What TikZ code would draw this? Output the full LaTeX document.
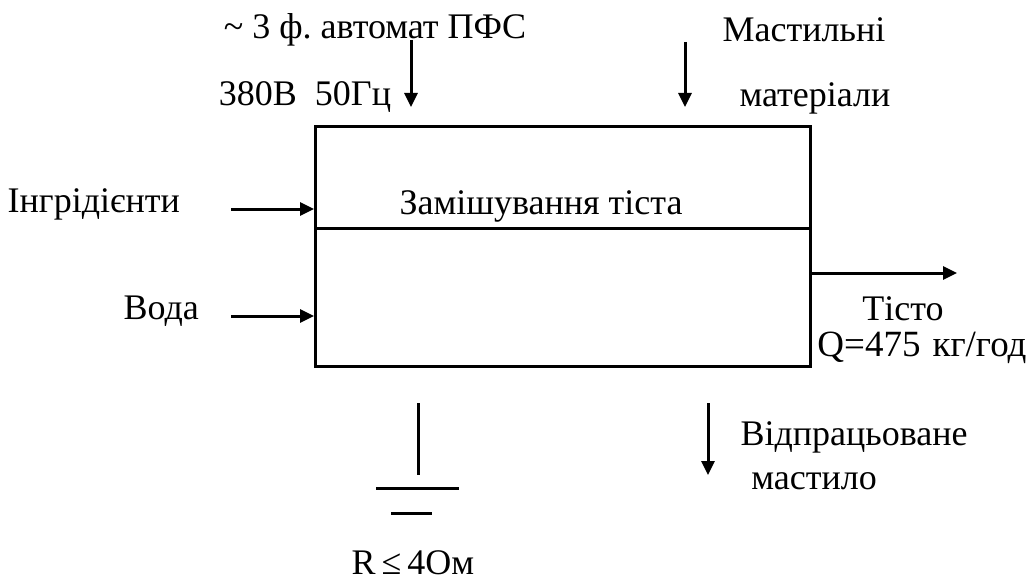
\documentclass[tikz,border=0pt]{standalone}
\usepackage{fontspec}
\setmainfont{Liberation Serif}
\newfontfamily\tnr{Liberation Serif}
\usetikzlibrary{arrows.meta}
\begin{document}
\frenchspacing
\begin{tikzpicture}[x=1pt,y=-1pt,
  line/.style={line width=3pt},
  arr/.style={line width=3pt,-{Triangle[length=14pt,width=13pt]}},
  lbl/.style={inner sep=0pt,font=\tnr\frenchspacing\fontsize{36}{42}\selectfont}]
\useasboundingbox (0,0) rectangle (1034,583);
\node[draw,line width=3pt,minimum width=495pt,minimum height=240pt,inner sep=0pt,anchor=north west] (box) at (314,125) {};
\coordinate (sl) at (314,228);
\coordinate (sr) at (809,228);
\draw[line] (sl) -- (sr);
\node[lbl] (title) at (541,206) {Замішування тіста};
% left inputs
\coordinate (i1) at (231,209); \coordinate (i1e) at (314,209);
\coordinate (w1) at (231,316); \coordinate (w1e) at (314,316);
\draw[arr] (i1) -- (i1e);
\draw[arr] (w1) -- (w1e);
\node[lbl,anchor=east] (ing) at (180,204) {Інгрідієнти};
\node[lbl,anchor=east] (voda) at (199,311) {Вода};
% top inputs
\coordinate (p1) at (411,40); \coordinate (p1e) at (411,107);
\coordinate (m1) at (685,42); \coordinate (m1e) at (685,107);
\draw[arr] (p1) -- (p1e);
\draw[arr] (m1) -- (m1e);
\node[lbl] (pfs) at (375,30) {\textasciitilde\ 3 ф. автомат ПФС};
\node[lbl] (volt) at (305,97) {380В\ \ 50Гц};
\node[lbl] (mast1) at (804,30) {Мастильні};
\node[lbl] (mast2) at (815,98) {матеріали};
% output
\coordinate (o1) at (809,273); \coordinate (o1e) at (957,273);
\draw[arr] (o1) -- (o1e);
\node[lbl] (tisto) at (903,309) {Тісто};
\node[lbl,font=\tnr\fontsize{37}{44}\selectfont] (q) at (922,348) {Q=475\hspace{12pt}кг/год};
% ground
\coordinate (g1) at (418,403); \coordinate (g2) at (418,475);
\coordinate (g3) at (376,488); \coordinate (g4) at (459,488);
\coordinate (g5) at (391,513); \coordinate (g6) at (432,513);
\draw[line] (g1) -- (g2);
\draw[line] (g3) -- (g4);
\draw[line] (g5) -- (g6);
\node[lbl,anchor=base] (r) at (413,574) {R\,≤\,4Ом};
% waste oil
\coordinate (b1) at (708,403); \coordinate (b1e) at (708,475);
\draw[arr] (b1) -- (b1e);
\node[lbl] (vid1) at (854,437) {Відпрацьоване};
\node[lbl] (vid2) at (814,481) {мастило};
\end{tikzpicture}
\end{document}
